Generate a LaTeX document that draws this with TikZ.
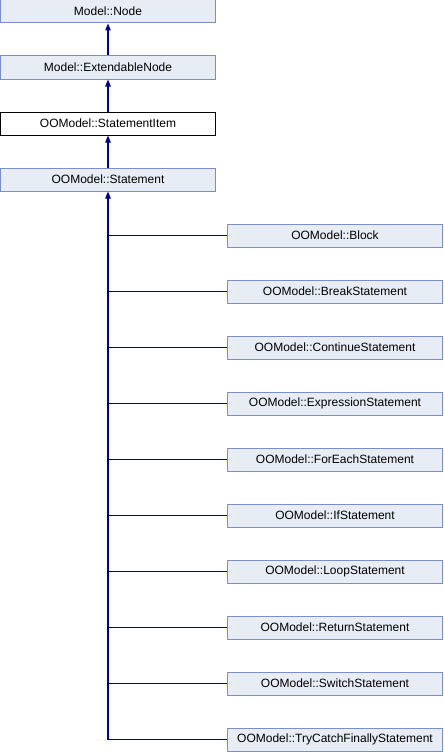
\documentclass[tikz,border=0pt]{standalone}
\usepackage{fontspec}
\setmainfont{Liberation Sans}
\usetikzlibrary{arrows.meta, positioning}
\definecolor{boxfill}{RGB}{232,236,245}
\definecolor{boxline}{RGB}{120,144,200}
\definecolor{linkblue}{RGB}{0,0,140}

\begin{document}
\begin{tikzpicture}[x=1pt, y=-1pt, >={Triangle[length=7pt,width=5.5pt]},
  cls/.style={draw=boxline, fill=boxfill, line width=1pt, inner sep=0pt,
    minimum width=215pt, minimum height=23pt, font=\fontsize{12}{14}\selectfont},
  cur/.style={cls, draw=black, fill=white},
  link/.style={draw=linkblue, line width=1.1pt}]
  \useasboundingbox (0,0) rectangle (444,752);

  % Base classes
  \node[cls] (modelnode) at (108,11.5) {Model::Node};
  \node[cls] (extnode)   at (108,67.5) {Model::ExtendableNode};
  \node[cur] (stmtitem)  at (108,123.5) {OOModel::StatementItem};
  \node[cls] (stmt)      at (108,179.5) {OOModel::Statement};

  \draw[link,->] (extnode)  -- (modelnode);
  \draw[link,->] (stmtitem) -- (extnode);
  \draw[link,->] (stmt)     -- (stmtitem);

  % Derived classes
  \foreach \cname/\ctext [count=\i from 0] in {block/Block, brk/BreakStatement,
      cont/ContinueStatement, expr/ExpressionStatement, foreach/ForEachStatement,
      ifst/IfStatement, loop/LoopStatement, ret/ReturnStatement,
      switch/SwitchStatement, trycatch/TryCatchFinallyStatement}
  {
    \node[cls] (\cname) at (335,{235.5+56*\i}) {OOModel::\ctext};
    \draw[link] (\cname.west) -- (\cname.west -| stmt.south);
  }
  \draw[link,->] (trycatch.west -| stmt.south) -- (stmt.south);
\end{tikzpicture}
\end{document}
